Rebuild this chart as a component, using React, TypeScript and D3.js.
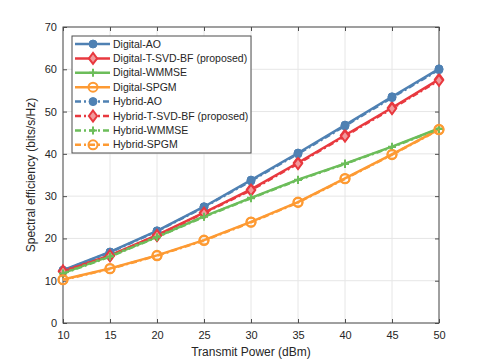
import React, { useRef, useEffect } from "react";
import * as d3 from "d3";

// transmit power (dBm)
const powers = [10, 15, 20, 25, 30, 35, 40, 45, 50];

// spectral efficiency (bits/s/Hz)
const digitalAO = [12.5, 16.8, 21.8, 27.5, 33.8, 40.2, 46.8, 53.5, 60.1];
const digitalTSVD = [12.3, 16.0, 20.8, 26.1, 31.6, 37.9, 44.4, 50.9, 57.6];
const digitalWMMSE = [11.8, 15.8, 20.4, 25.2, 29.6, 33.9, 37.7, 41.7, 46.0];
const digitalSPGM = [10.3, 12.9, 16.0, 19.6, 23.9, 28.6, 34.2, 39.9, 45.8];
const hybridAO = [12.4, 16.7, 21.7, 27.4, 33.6, 40.0, 46.6, 53.3, 59.9];
const hybridTSVD = [12.2, 15.9, 20.7, 26.0, 31.4, 37.7, 44.2, 50.7, 57.4];
const hybridWMMSE = [11.7, 15.7, 20.3, 25.1, 29.5, 33.8, 37.6, 41.6, 45.9];
const hybridSPGM = [10.2, 12.8, 15.9, 19.5, 23.8, 28.5, 34.1, 39.8, 45.7];

const xTicks = [10, 15, 20, 25, 30, 35, 40, 45, 50];
const yTicks = [0, 10, 20, 30, 40, 50, 60, 70];

const BLUE = "#4f81b3";
const RED = "#e8393f";
const GREEN = "#6cbd5a";
const ORANGE = "#fd9a33";

const series = [
  { name: "Digital-AO", values: digitalAO, color: BLUE, marker: "circle", dashed: false },
  { name: "Digital-T-SVD-BF (proposed)", values: digitalTSVD, color: RED, marker: "diamond", dashed: false },
  { name: "Digital-WMMSE", values: digitalWMMSE, color: GREEN, marker: "plus", dashed: false },
  { name: "Digital-SPGM", values: digitalSPGM, color: ORANGE, marker: "ring", dashed: false },
  { name: "Hybrid-AO", values: hybridAO, color: BLUE, marker: "circle", dashed: true },
  { name: "Hybrid-T-SVD-BF (proposed)", values: hybridTSVD, color: RED, marker: "diamond", dashed: true },
  { name: "Hybrid-WMMSE", values: hybridWMMSE, color: GREEN, marker: "plus", dashed: true },
  { name: "Hybrid-SPGM", values: hybridSPGM, color: ORANGE, marker: "ring", dashed: true },
];

const drawMarker = (g, type, color, x, y) => {
  if (type === "circle") {
    g.append("circle").attr("cx", x).attr("cy", y).attr("r", 4)
      .attr("fill", color).attr("stroke", color).attr("stroke-width", 1);
  } else if (type === "diamond") {
    const s = 5.5;
    g.append("path")
      .attr("d", `M${x},${y - s}L${x + s * 0.75},${y}L${x},${y + s}L${x - s * 0.75},${y}Z`)
      .attr("fill", "#f19a9c").attr("stroke", color).attr("stroke-width", 2);
  } else if (type === "plus") {
    const s = 4;
    g.append("path")
      .attr("d", `M${x - s},${y}H${x + s}M${x},${y - s}V${y + s}`)
      .attr("stroke", color).attr("stroke-width", 2).attr("fill", "none");
  } else {
    g.append("circle").attr("cx", x).attr("cy", y).attr("r", 4.5)
      .attr("fill", "none").attr("stroke", color).attr("stroke-width", 2);
  }
};

const Chart = ({ width = 485, height = 363 }) => {
  const ref = useRef(null);

  useEffect(() => {
    const container = ref.current;
    if (!container) return;
    d3.select(container).selectChildren().remove();

    const margin = { top: 27, right: 46, bottom: 40, left: 63 };
    const w = width - margin.left - margin.right;
    const h = height - margin.top - margin.bottom;

    const svg = d3
      .select(container)
      .append("g")
      .style("font-family", "'Liberation Sans', Arial, sans-serif")
      .attr("transform", `translate(${margin.left}, ${margin.top})`);

    const x = d3.scaleLinear().domain([10, 50]).range([0, w]);
    const y = d3.scaleLinear().domain([0, 70]).range([h, 0]);

    // Rejilla
    const grid = svg.append("g").attr("stroke", "#e6e6e6").attr("stroke-width", 1);
    xTicks.forEach((t) => {
      grid.append("line").attr("x1", x(t)).attr("x2", x(t)).attr("y1", 0).attr("y2", h);
    });
    yTicks.forEach((t) => {
      grid.append("line").attr("x1", 0).attr("x2", w).attr("y1", y(t)).attr("y2", y(t));
    });

    // Ejes (caja con marcas hacia dentro)
    const axisColor = "#4d4d4d";
    const styleAxis = (g) => {
      g.select(".domain").remove();
      g.selectAll("line").attr("stroke", axisColor);
      g.selectAll("text").attr("fill", "#262626").style("font-size", "11px");
    };
    svg.append("g").attr("transform", `translate(0, ${h})`)
      .call(d3.axisBottom(x).tickValues(xTicks).tickSize(-4).tickPadding(8))
      .call(styleAxis);
    svg.append("g")
      .call(d3.axisLeft(y).tickValues(yTicks).tickSize(-4).tickPadding(6))
      .call(styleAxis);
    svg.append("g")
      .call(d3.axisTop(x).tickValues(xTicks).tickSize(-4).tickFormat(() => ""))
      .call(styleAxis);
    svg.append("g").attr("transform", `translate(${w}, 0)`)
      .call(d3.axisRight(y).tickValues(yTicks).tickSize(-4).tickFormat(() => ""))
      .call(styleAxis);
    svg.append("rect").attr("width", w).attr("height", h)
      .attr("fill", "none").attr("stroke", axisColor).attr("stroke-width", 1);

    // Series
    const line = d3.line().x((d, i) => x(powers[i])).y((d) => y(d));
    series.forEach((s) => {
      const g = svg.append("g");
      g.append("path").datum(s.values).attr("d", line)
        .attr("fill", "none").attr("stroke", s.color).attr("stroke-width", 2.5)
        .attr("stroke-dasharray", s.dashed ? "6,3,2,3" : null);
      s.values.forEach((v, i) => drawMarker(g, s.marker, s.color, x(powers[i]), y(v)));
    });

    // Leyenda
    const leg = svg.append("g").attr("transform", `translate(${72 - margin.left}, ${36 - margin.top})`);
    leg.append("rect").attr("width", 179).attr("height", 117)
      .attr("fill", "white").attr("stroke", axisColor).attr("stroke-width", 1);
    series.forEach((s, i) => {
      const cy = 8 + i * 14.4;
      leg.append("line").attr("x1", 3).attr("x2", 38).attr("y1", cy).attr("y2", cy)
        .attr("stroke", s.color).attr("stroke-width", 2.5)
        .attr("stroke-dasharray", s.dashed ? "6,3,2,3" : null);
      drawMarker(leg, s.marker, s.color, 21, cy);
      leg.append("text").attr("x", 41).attr("y", cy).attr("dy", "0.35em")
        .style("font-size", "10.5px").attr("fill", "#262626").text(s.name);
    });

    // Rótulos
    svg.append("text").attr("x", w / 2).attr("y", h + 33)
      .attr("text-anchor", "middle").style("font-size", "12px").attr("fill", "#262626")
      .text("Transmit Power (dBm)");
    svg.append("text").attr("transform", "rotate(-90)")
      .attr("x", -h / 2).attr("y", -28)
      .attr("text-anchor", "middle").style("font-size", "12px").attr("fill", "#262626")
      .text("Spectral efficiency (bits/s/Hz)");
  }, [width, height]);

  return <svg width={width} height={height} ref={ref} style={{ display: "block" }} />;
};

export default function App() {
  return (
    <div style={{ position: "absolute", left: 0, top: 0 }}>
      <Chart />
    </div>
  );
}
